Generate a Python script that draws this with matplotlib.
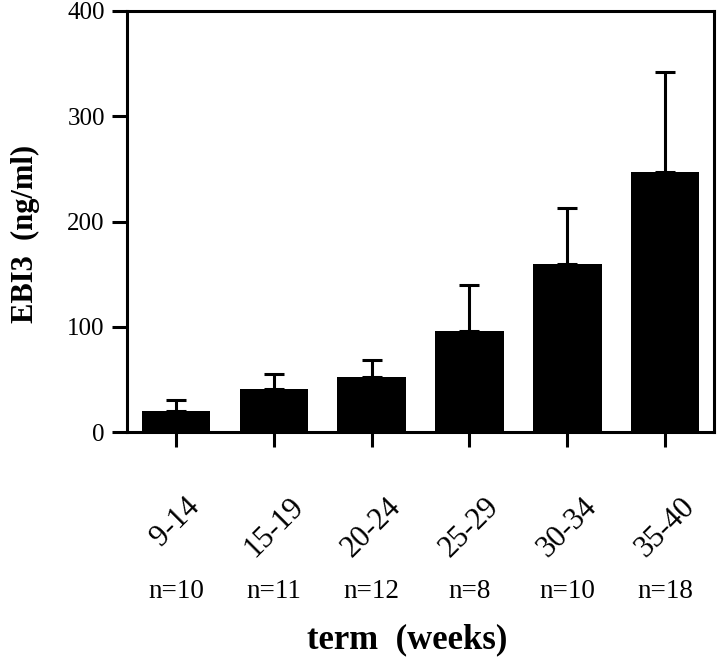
import matplotlib
matplotlib.use('Agg')
import matplotlib.pyplot as plt
import numpy as np

plt.rcParams['font.family'] = ['Liberation Serif', 'DejaVu Serif']

# ============ data ============
terms = ['9-14', '15-19', '20-24', '25-29', '30-34', '35-40']
ebi3_mean = [20, 41, 52, 96, 160, 247]
ebi3_err = [10, 14, 16, 44, 53, 95]
n_counts = [10, 11, 12, 8, 10, 18]

fig = plt.figure(figsize=(7.2, 6.62), dpi=100)
ax = fig.add_axes([0.1764, 0.3474, 0.8153, 0.636])

x = np.arange(len(terms))
ax.bar(x, ebi3_mean, width=0.7, color='black', zorder=2)
ax.errorbar(x, ebi3_mean, yerr=[np.zeros(len(x)), ebi3_err], fmt='none',
            ecolor='black', elinewidth=2.2, capsize=7.5, capthick=2.2, zorder=1)

ax.set_xlim(-0.5, 5.5)
ax.set_ylim(0, 400)
ax.set_yticks([0, 100, 200, 300, 400])
ax.set_xticks(x)
ax.set_xticklabels(terms, rotation=45, ha='center', fontsize=22)
ax.tick_params(axis='y', labelsize=18, length=11, width=2.2, direction='out', pad=5)
ax.tick_params(axis='x', length=11, width=2.2, direction='out', pad=32)

for s in ax.spines.values():
    s.set_linewidth(2.2)

ax.set_ylabel('EBI3  (ng/ml)', fontsize=22, fontweight='bold')
ax.yaxis.set_label_coords(-0.148, 0.47)

# sample sizes under each group
for xi, n in zip(x, n_counts):
    ax.text(xi, -0.378, f'n={n}', transform=ax.get_xaxis_transform(),
            ha='center', va='center', fontsize=19.5)

fig.text(0.565, 0.033, 'term  (weeks)', ha='center', va='center',
         fontsize=25, fontweight='bold')

fig.savefig('out.png', dpi=100, facecolor='white')
